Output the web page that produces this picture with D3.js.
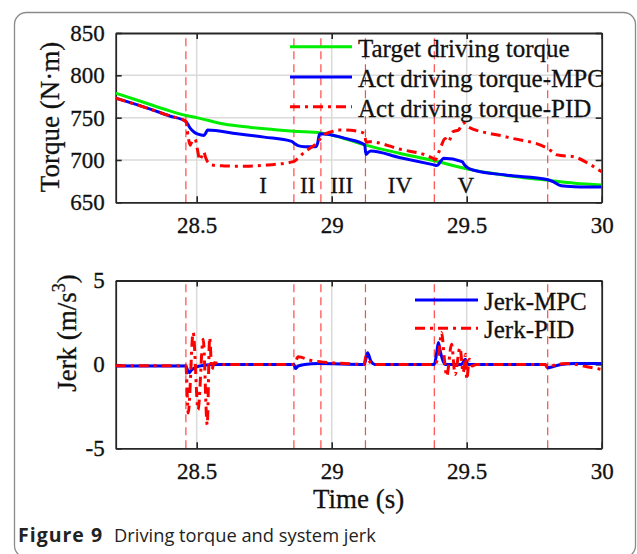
<!DOCTYPE html>
<html>
<head>
<meta charset="utf-8">
<script src="https://cdn.jsdelivr.net/npm/d3@7"></script>
<style>
  html, body { margin: 0; padding: 0; background: #ffffff; }
  svg { display: block; }
</style>
</head>
<body>
<svg id="chart" width="637" height="554"></svg>
<script>
// ---------------- DATA ----------------
const xDomain = [28.2, 30];
const xTicks = [28.5, 29, 29.5, 30];
const xTickLabels = ["28.5", "29", "29.5", "30"];
const torqueTicks = [650, 700, 750, 800, 850];
const jerkTicks = [-5, 0, 5];
const jerkTickLabels = ["-5", "0", "5"];

const phaseLines = [28.46, 28.86, 28.96, 29.125, 29.38, 29.8];
const phaseNames = ["I", "II", "III", "IV", "V"];
const phaseLabelT = [28.746, 28.911, 29.037, 29.253, 29.497];
const phaseLabelV = 660.5;

const targetT = [28.2, 28.3, 28.4, 28.46, 28.5, 28.6, 28.7, 28.8, 28.86, 28.96, 29.0, 29.125, 29.25, 29.38, 29.5, 29.6, 29.7, 29.8, 29.9, 30.0];
const targetV = [779, 768.5, 758, 752.5, 750, 742.5, 738.5, 735.5, 734, 732, 729.5, 717.5, 708, 699, 689.5, 684, 679.5, 676, 672.5, 670.5];

const mpcT = [28.2, 28.3, 28.4, 28.46, 28.475, 28.49, 28.505, 28.527, 28.533, 28.54, 28.65, 28.75, 28.852, 28.862, 28.875, 28.9, 28.94, 28.948, 28.955, 28.985, 29.05, 29.122, 29.127, 29.135, 29.145, 29.25, 29.375, 29.39, 29.405, 29.415, 29.483, 29.492, 29.505, 29.52, 29.65, 29.798, 29.82, 29.85, 29.9, 30.0];
const mpcV = [773, 763, 752, 745.5, 738, 733, 730.5, 729, 731.5, 735.5, 731, 727, 722, 719.5, 717, 715.7, 715.5, 720, 731, 730.4, 725.5, 718, 706.5, 709, 710.5, 703, 694.5, 693.5, 699, 702, 698, 694, 690.5, 688.5, 682, 677, 674.5, 669.5, 668.5, 668];

const pidT = [28.2, 28.3, 28.4, 28.46, 28.468, 28.476, 28.484, 28.494, 28.503, 28.511, 28.518, 28.526, 28.533, 28.54, 28.557, 28.6, 28.675, 28.76, 28.858, 28.875, 28.895, 28.915, 28.932, 28.95, 28.97, 29.0, 29.02, 29.07, 29.1, 29.12, 29.128, 29.14, 29.25, 29.375, 29.383, 29.395, 29.405, 29.42, 29.432, 29.45, 29.47, 29.488, 29.5, 29.65, 29.798, 29.82, 29.835, 29.9, 29.95, 30.0];
const pidV = [773, 763, 752, 745.5, 728, 717.5, 723, 724.5, 712, 700, 704, 709.5, 703, 698, 694, 693, 692.5, 694, 698, 702, 708, 713, 716.5, 722, 729.5, 733.5, 735.5, 735, 733.5, 731.5, 721, 721.5, 713, 702, 700, 708, 716, 725.5, 721.5, 733.5, 735.5, 744, 740, 727, 714, 709, 706, 703.5, 696, 686];

const jerkMpcT = [28.2, 28.46, 28.465, 28.472, 28.48, 28.5, 28.53, 28.56, 28.6, 28.86, 28.866, 28.875, 28.9, 28.95, 29.12, 29.128, 29.133, 29.145, 29.16, 29.38, 29.388, 29.395, 29.402, 29.41, 29.42, 29.48, 29.495, 29.505, 29.515, 29.6, 29.79, 29.8, 29.815, 29.85, 29.9, 30.0];
const jerkMpcV = [-0.1, -0.1, -0.3, -0.5, -0.35, -0.15, -0.05, 0, 0, 0, -0.25, -0.1, 0, 0.05, 0, 0.4, 0.7, 0.2, 0, 0, 0.6, 1.3, 0.8, 0.3, 0, 0, 0.3, 0, 0, 0, 0, -0.2, -0.15, 0, 0.05, 0.05];

const jerkPidT = [28.2, 28.46, 28.4686, 28.487, 28.505, 28.524, 28.539, 28.548, 28.556, 28.565, 28.6, 28.86, 28.876, 28.92, 28.96, 29.05, 29.12, 29.127, 29.134, 29.145, 29.16, 29.38, 29.395, 29.407, 29.418, 29.426, 29.444, 29.457, 29.475, 29.487, 29.496, 29.5, 29.51, 29.52, 29.535, 29.79, 29.8, 29.815, 29.87, 29.95, 30.0];
const jerkPidV = [-0.08, -0.08, -2.9, 1.9, -2.7, 1.5, -3.6, 1.6, -0.3, 0.1, 0, 0, 0.45, 0.25, 0.15, 0.05, 0, 0.5, 0.3, 0.1, 0, 0, 0.5, 1.9, 0.2, -0.7, 1.2, -0.6, 1.0, -0.5, 0.6, -0.9, 0.3, -0.1, 0, 0, -0.2, -0.1, 0.05, -0.15, -0.3];

const torqueLegend = ["Target driving torque", "Act driving torque-MPC", "Act driving torque-PID"];
const jerkLegend = ["Jerk-MPC", "Jerk-PID"];
const caption = ["Figure 9", "Driving torque and system jerk"];

// ---------------- DRAW ----------------
const svg = d3.select("#chart");
const serif = "'Liberation Serif', 'Times New Roman', serif";
const axisCol = "#262626";
const ink = "#111";

function serifText(sel, size) {
  return sel.style("font-family", serif).style("font-size", size + "px")
    .attr("fill", ink).attr("stroke", ink).attr("stroke-width", 0.3);
}

svg.append("rect").attr("x", 14.5).attr("y", 12.5).attr("width", 621).attr("height", 545)
  .attr("rx", 12).attr("fill", "none").attr("stroke", "#8a8a8a").attr("stroke-width", 1.3);

const x = d3.scaleLinear().domain(xDomain).range([115.7, 601.7]);
const yT = d3.scaleLinear().domain([650, 850]).range([202.3, 33]);
const yB = d3.scaleLinear().domain([-5, 5]).range([448.3, 280.5]);

const zip = (a, b) => a.map((t, i) => [t, b[i]]);

function panel(y, yTicks, yLabels, id, gridY) {
  const [y0, y1] = y.range();
  const g = svg.append("g");
  g.append("clipPath").attr("id", id).append("rect")
    .attr("x", x.range()[0]).attr("y", y1).attr("width", x.range()[1] - x.range()[0]).attr("height", y0 - y1);
  g.selectAll(".gx").data(xTicks.slice(0, 3)).join("line")
    .attr("x1", d => x(d)).attr("x2", d => x(d)).attr("y1", y0).attr("y2", y1)
    .attr("stroke", "#dadada").attr("stroke-width", 1.5);
  g.selectAll(".gy").data(gridY).join("line")
    .attr("y1", d => y(d)).attr("y2", d => y(d)).attr("x1", x.range()[0]).attr("x2", x.range()[1])
    .attr("stroke", "#dadada").attr("stroke-width", 1.5);
  g.selectAll(".ph").data(phaseLines).join("line")
    .attr("x1", d => x(d)).attr("x2", d => x(d)).attr("y1", y0).attr("y2", y1)
    .attr("stroke", "#ff1a1a").attr("stroke-opacity", 0.8).attr("stroke-width", 1.2)
    .attr("stroke-dasharray", "8,5");
  const ax = g.append("g").attr("transform", `translate(0,${y0})`)
    .call(d3.axisBottom(x).tickValues(xTicks).tickFormat((d, i) => xTickLabels[i]).tickSizeInner(-6).tickSizeOuter(0).tickPadding(14));
  const axT = g.append("g").attr("transform", `translate(0,${y1})`)
    .call(d3.axisTop(x).tickValues(xTicks).tickFormat("").tickSizeInner(-6).tickSizeOuter(0));
  const ay = g.append("g").attr("transform", `translate(${x.range()[0]},0)`)
    .call(d3.axisLeft(y).tickValues(yTicks).tickFormat((d, i) => yLabels[i]).tickSizeInner(-6).tickSizeOuter(0).tickPadding(11));
  const ayR = g.append("g").attr("transform", `translate(${x.range()[1]},0)`)
    .call(d3.axisRight(y).tickValues(yTicks).tickFormat("").tickSizeInner(-6).tickSizeOuter(0));
  [ax, axT, ay, ayR].forEach(a => {
    a.attr("font-family", null).attr("font-size", null);
    a.select(".domain").attr("stroke", axisCol).attr("stroke-width", 1.8);
    a.selectAll(".tick line").attr("stroke", axisCol).attr("stroke-width", 1.6);
    serifText(a.selectAll("text"), 23);
  });
  return g;
}

const gTop = panel(yT, torqueTicks, torqueTicks.map(String), "clipTop", [700, 750, 800]);
const gBot = panel(yB, jerkTicks, jerkTickLabels, "clipBot", [0]);

serifText(gTop.selectAll(".pl").data(phaseNames).join("text")
  .attr("x", (d, i) => x(phaseLabelT[i])).attr("y", yT(phaseLabelV))
  .attr("text-anchor", "middle"), 23)
  .text(d => d);

const lineT = d3.line().x(d => x(d[0])).y(d => yT(d[1])).curve(d3.curveMonotoneX);
const lineB = d3.line().x(d => x(d[0])).y(d => yB(d[1])).curve(d3.curveMonotoneX);

const dashDot = "10,5,3,5";
const topSeries = [
  { data: zip(targetT, targetV), color: "#00ee00", dash: null },
  { data: zip(mpcT, mpcV), color: "#0000ff", dash: null },
  { data: zip(pidT, pidV), color: "#ff0000", dash: dashDot }
];
const botSeries = [
  { data: zip(jerkMpcT, jerkMpcV), color: "#0000ff", dash: null },
  { data: zip(jerkPidT, jerkPidV), color: "#ff0000", dash: dashDot }
];

const cTop = svg.append("g").attr("clip-path", "url(#clipTop)");
topSeries.forEach(s => {
  cTop.append("path").attr("d", lineT(s.data)).attr("fill", "none")
    .attr("stroke", s.color).attr("stroke-width", 3).attr("stroke-dasharray", s.dash)
    .attr("stroke-linejoin", "round");
});
const cBot = svg.append("g").attr("clip-path", "url(#clipBot)");
botSeries.forEach(s => {
  cBot.append("path").attr("d", lineB(s.data)).attr("fill", "none")
    .attr("stroke", s.color).attr("stroke-width", 3).attr("stroke-dasharray", s.dash)
    .attr("stroke-linejoin", "round");
});

function legend(items, series, x0, x1, ys) {
  items.forEach((name, i) => {
    svg.append("line").attr("x1", x0).attr("x2", x1).attr("y1", ys[i]).attr("y2", ys[i])
      .attr("stroke", series[i].color).attr("stroke-width", 3).attr("stroke-dasharray", series[i].dash);
    serifText(svg.append("text").attr("x", x1 + 6).attr("y", ys[i] + 10), 25).text(name);
  });
}
legend(torqueLegend, topSeries, 290, 352, [46.7, 77, 106.7]);
legend(jerkLegend, botSeries, 415, 478, [300, 328.3]);

serifText(svg.append("text").attr("transform", "translate(59,117) rotate(-90)")
  .attr("text-anchor", "middle"), 27).text("Torque (N·m)");
const jl = serifText(svg.append("text").attr("transform", "translate(76,333) rotate(-90)")
  .attr("text-anchor", "middle"), 27);
jl.append("tspan").text("Jerk (m/s");
jl.append("tspan").style("font-size", "18px").attr("dy", -11).text("3");
jl.append("tspan").attr("dy", 11).text(")");
serifText(svg.append("text").attr("x", x(29.1)).attr("y", 508)
  .attr("text-anchor", "middle"), 27).text("Time (s)");

const cap = svg.append("text").attr("x", 18).attr("y", 542)
  .style("font-family", "'Open Sans', 'Noto Sans', sans-serif").style("font-size", "18.3px").attr("fill", "#222");
cap.append("tspan").attr("font-weight", 700).style("font-size", "19.5px").attr("letter-spacing", 1.0).text(caption[0]);
cap.append("tspan").attr("dx", 11).text(caption[1]);
</script>
</body>
</html>
